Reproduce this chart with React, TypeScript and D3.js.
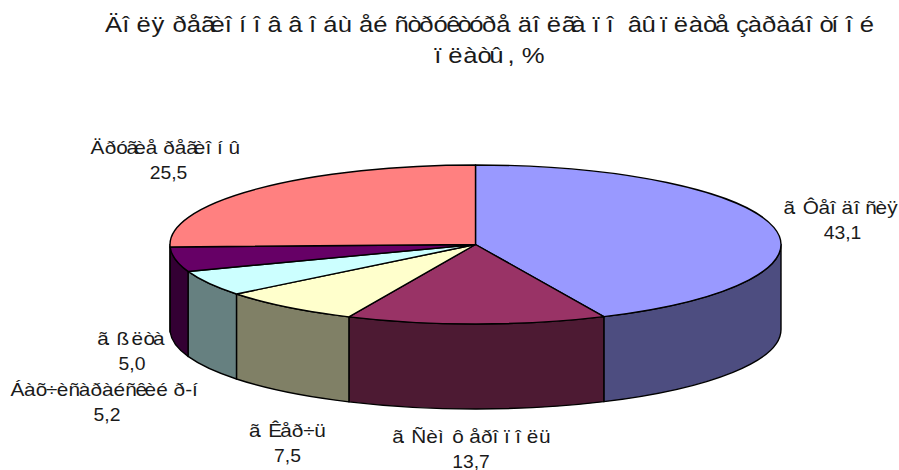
import React from "react";
import * as d3 from "d3";

const W = 899, H = 470;
const titleLines = ["Äîëÿ ðåãèîíîâ â îáùåé ñòðóêòóðå äîëãà ïî âûïëàòå çàðàáîòíîé", "ïëàòû, %"];
const categories = ["ã. Ôåîäîñèÿ", "ã. Ñèìôåðîïîëü", "ã. Êåð÷ü", "Áàõ÷èñàðàéñêèé ð-í", "ã. ßëòà", "Äðóãèå ðåãèîíû"];
const values = [43.1, 13.7, 7.5, 5.2, 5.0, 25.5];
const valueLabels = ["43,1", "13,7", "7,5", "5,2", "5,0", "25,5"];
const topColors = ["#9999FF", "#993366", "#FFFFCC", "#CCFFFF", "#660066", "#FF8080"];
const sideColors = ["#4D4D80", "#4D1A33", "#808066", "#668080", "#330033", "#804040"];
const labelCenters: [number, number][] = [[841, 214], [471, 443], [287, 437], [107, 396], [131, 345], [167, 154]];
const valueCenters: [number, number][] = [[842.5, 238.5], [471, 467.5], [287.5, 461.5], [107, 420.5], [132, 369.5], [168.5, 178.5]];

const cx = 475.5, cy = 244.5, rx = 305.5, ry = 79.5, depth = 85;
const sx = d3.scaleLinear().domain([-1, 1]).range([cx - rx, cx + rx]);
const sy = d3.scaleLinear().domain([-1, 1]).range([cy - ry, cy + ry]);
const px = (a: number) => sx(Math.sin(a));
const py = (a: number) => sy(-Math.cos(a));

const slices = d3.pie<number>().sort(null).startAngle(0).endAngle(2 * Math.PI)(values);

function topPath(a0: number, a1: number) {
  const large = a1 - a0 > Math.PI ? 1 : 0;
  return `M${cx},${cy}L${px(a0)},${py(a0)}A${rx},${ry} 0 ${large} 1 ${px(a1)},${py(a1)}Z`;
}
function sidePath(a0: number, a1: number) {
  const s = Math.max(a0, Math.PI / 2), e = Math.min(a1, 1.5 * Math.PI);
  if (e <= s) return null;
  return `M${px(s)},${py(s)}A${rx},${ry} 0 0 1 ${px(e)},${py(e)}L${px(e)},${py(e) + depth}A${rx},${ry} 0 0 0 ${px(s)},${py(s) + depth}Z`;
}

// The strings are cp1251 bytes shown as Latin-1: each glyph advances by the width of its Cyrillic counterpart.
const ctx = typeof document !== "undefined" ? document.createElement("canvas").getContext("2d")! : null;
function Spaced({ s, x, y, size, stretch = 1.13 }: { s: string; x: number; y: number; size: number; stretch?: number }) {
  ctx!.font = `${size}px "Liberation Sans"`;
  const adv = Array.from(s).map((c) => {
    const code = c.charCodeAt(0);
    const ch = code >= 0xc0 && code <= 0xff ? String.fromCharCode(code - 0xc0 + 0x410) : c;
    return ctx!.measureText(ch).width;
  });
  const total = d3.sum(adv);
  let p = -total / 2;
  const xs = adv.map((a) => { const v = p; p += a; return v.toFixed(2); });
  return (
    <text transform={`translate(${x},${y}) scale(${stretch},1)`} x={xs.join(" ")} y={0} fontSize={size}
      fontFamily="'Liberation Sans', Arial, sans-serif" fill="#1a1a1a" style={{ whiteSpace: "pre" }}>{s}</text>
  );
}

export default function App() {
  return (
    <svg width={W} height={H} viewBox={`0 0 ${W} ${H}`} style={{ position: "absolute", left: 0, top: 0, background: "#fff" }}>
      <Spaced s={titleLines[0]} x={489.5} y={32} size={22.7} />
      <Spaced s={titleLines[1]} x={489.5} y={63} size={22.7} />
      <g stroke="#000" strokeWidth={1.4} strokeLinejoin="round">
        {slices.map((d, i) => {
          const p = sidePath(d.startAngle, d.endAngle);
          return p ? <path key={i} d={p} fill={sideColors[i]} /> : null;
        })}
        {slices.map((d, i) => <path key={i} d={topPath(d.startAngle, d.endAngle)} fill={topColors[i]} />)}
      </g>
      {categories.map((c, i) => (
        <g key={i}>
          <Spaced s={c} x={labelCenters[i][0]} y={labelCenters[i][1]} size={18.4} />
          <Spaced s={valueLabels[i]} x={valueCenters[i][0]} y={valueCenters[i][1]} size={18.4} stretch={1.05} />
        </g>
      ))}
    </svg>
  );
}
